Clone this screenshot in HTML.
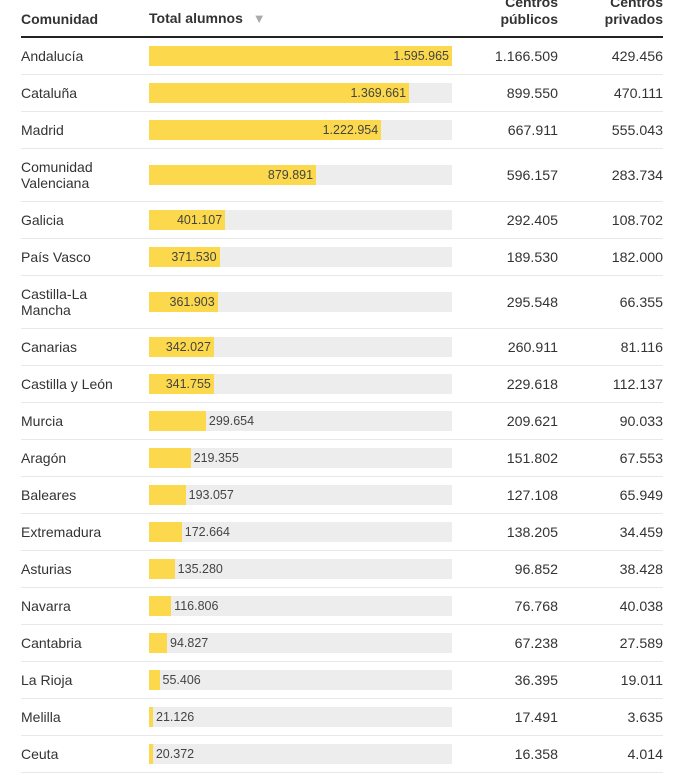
<!DOCTYPE html>
<html><head><meta charset="utf-8"><style>
body{margin:0;width:680px;height:783px;background:#fff;font-family:"Liberation Sans",sans-serif;color:#333;position:relative;overflow:hidden}
.h{position:absolute;font-weight:bold;font-size:14px;color:#333;line-height:17px}
.hl{position:absolute;left:21px;top:36px;width:642px;height:2px;background:#222}
.row{position:absolute;left:21px;width:642px;border-bottom:1px solid #e8e8e8}
.n{position:absolute;left:0;font-size:14px;line-height:16px;color:#333}
.tr{position:absolute;left:128px;width:303px;height:20px;background:#ededed}
.b{position:absolute;left:0;top:0;height:20px;background:#fcd94c}
.l{position:absolute;top:0;font-size:12.5px;line-height:20px;color:#444}
.v{position:absolute;font-size:14.2px;text-align:right;width:120px;line-height:16px}
</style></head><body>
<div class="h" style="left:21px;top:11px">Comunidad</div>
<div class="h" style="left:149px;top:10px">Total alumnos <span style="color:#aaa;font-size:13px;margin-left:6px">▼</span></div>
<div class="h" style="left:438px;top:-6px;width:120px;text-align:right">Centros<br>públicos</div>
<div class="h" style="left:543px;top:-6px;width:120px;text-align:right">Centros<br>privados</div>
<div class="hl"></div>
<div id="rows"></div>
<script>
const d=[["Andalucía",1595965,"1.595.965","1.166.509","429.456"],["Cataluña",1369661,"1.369.661","899.550","470.111"],["Madrid",1222954,"1.222.954","667.911","555.043"],["Comunidad<br>Valenciana",879891,"879.891","596.157","283.734",1],["Galicia",401107,"401.107","292.405","108.702"],["País Vasco",371530,"371.530","189.530","182.000"],["Castilla-La<br>Mancha",361903,"361.903","295.548","66.355",1],["Canarias",342027,"342.027","260.911","81.116"],["Castilla y León",341755,"341.755","229.618","112.137"],["Murcia",299654,"299.654","209.621","90.033"],["Aragón",219355,"219.355","151.802","67.553"],["Baleares",193057,"193.057","127.108","65.949"],["Extremadura",172664,"172.664","138.205","34.459"],["Asturias",135280,"135.280","96.852","38.428"],["Navarra",116806,"116.806","76.768","40.038"],["Cantabria",94827,"94.827","67.238","27.589"],["La Rioja",55406,"55.406","36.395","19.011"],["Melilla",21126,"21.126","17.491","3.635"],["Ceuta",20372,"20.372","16.358","4.014"]];
let y=38,h='';
for(const r of d){const H=r[5]?53:37;const w=303*r[1]/1595965;const by=(H-20)/2-0.5;
const ty=(H-(r[5]?32:16))/2-0.5;
const lab=w>60?`<div class="l" style="right:${303-w+3}px">${r[2]}</div>`:`<div class="l" style="left:${w+3}px">${r[2]}</div>`;
h+=`<div class="row" style="top:${y}px;height:${H-1}px"><div class="n" style="top:${ty}px">${r[0]}</div><div class="tr" style="top:${by}px"><div class="b" style="width:${w}px"></div>${lab}</div><div class="v" style="left:417px;top:${(H-16)/2+0.5}px">${r[3]}</div><div class="v" style="left:522px;top:${(H-16)/2+0.5}px">${r[4]}</div></div>`;
y+=H;}
document.getElementById('rows').innerHTML=h;
</script>
</body></html>
